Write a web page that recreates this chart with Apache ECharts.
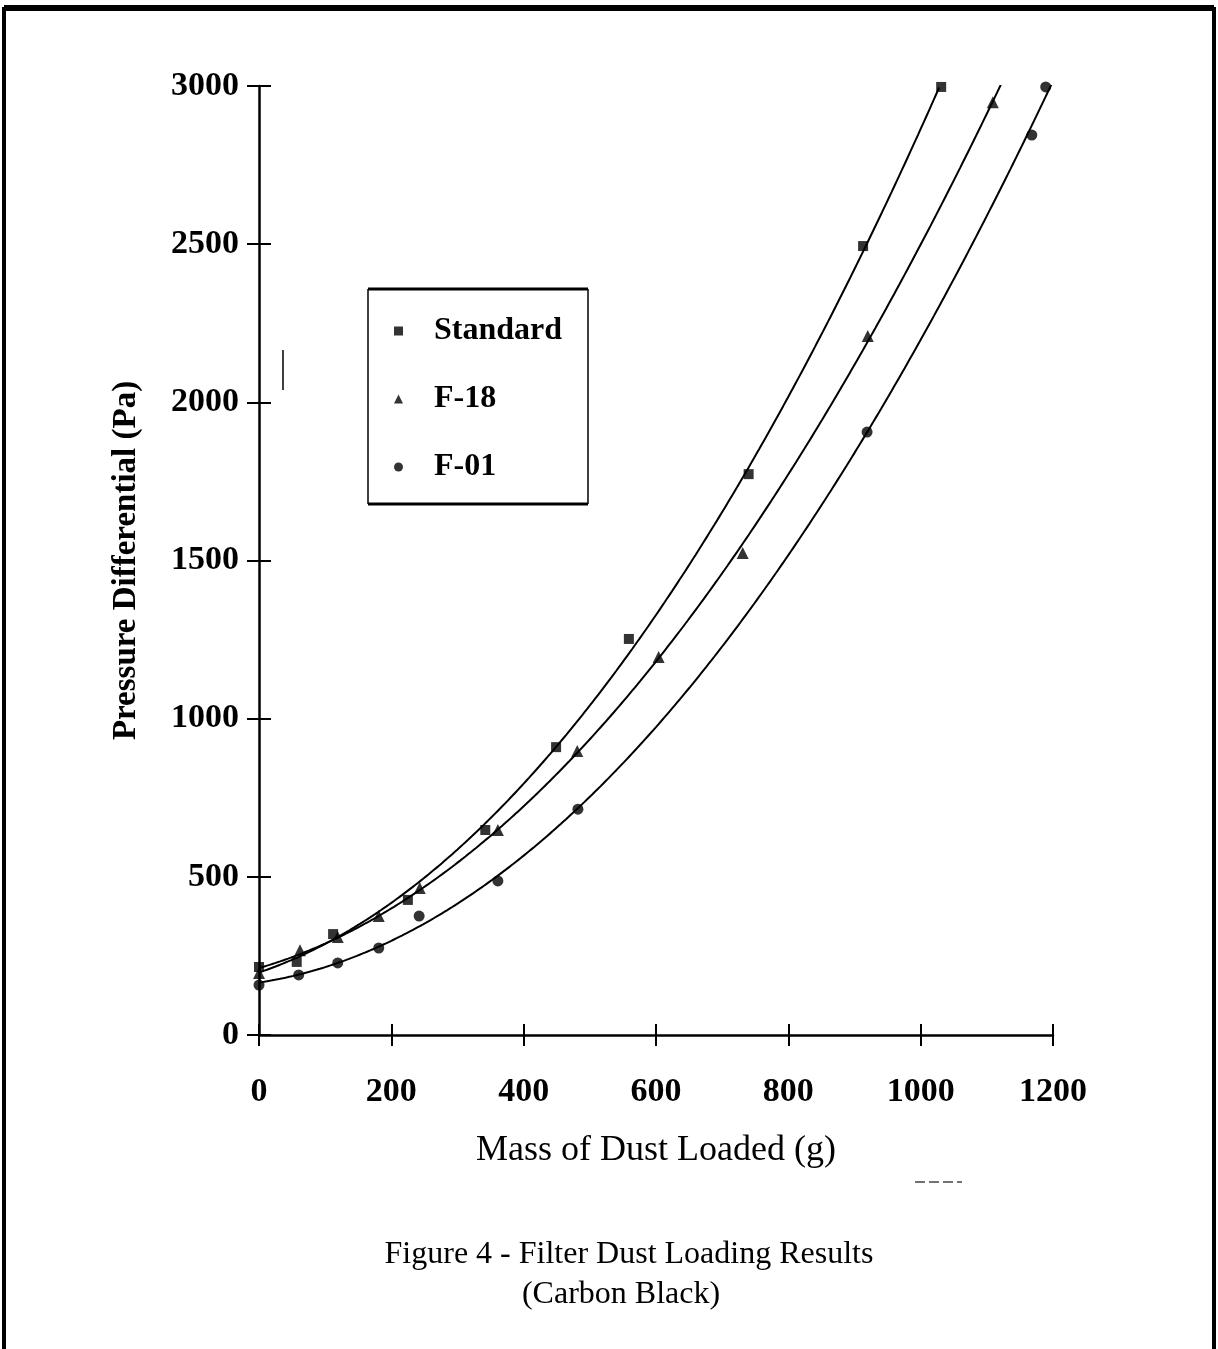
<!DOCTYPE html>
<html>
<head>
<meta charset="utf-8">
<title>Filter Dust Loading Results</title>
<script src="https://cdn.jsdelivr.net/npm/echarts@6.0.0/dist/echarts.min.js"></script>
<style>
  html, body { margin: 0; padding: 0; background: #fff; }
  #chart { width: 1218px; height: 1349px; }
</style>
</head>
<body>
<div id="chart"></div>
<script>
// values
const seriesNames = ['Standard', 'F-18', 'F-01']
const massStandard = [0, 57, 112, 225, 342, 449, 559, 740, 913, 1031]
const dpStandard = [215, 231, 319, 427, 648, 910, 1252, 1773, 2494, 2997]
const massF18 = [0, 62, 119, 181, 243, 361, 481, 604, 731, 920, 1109]
const dpF18 = [196, 268, 310, 376, 465, 648, 898, 1195, 1524, 2210, 2949]
const massF01 = [0, 60, 119, 181, 242, 361, 482, 919, 1168, 1189]
const dpF01 = [158, 190, 228, 275, 376, 487, 714, 1906, 2845, 2997]
// where each trendline stops on the x axis
const trendEnd = [1030, 1125, 1200]

const SERIF = '"Liberation Serif", "DejaVu Serif", serif'
const INK = '#000'

// 2nd order polynomial trendline (least squares), like the spreadsheet one
function quadFit (xs, ys) {
  const s = [0, 0, 0, 0, 0]
  const t = [0, 0, 0]
  xs.forEach((x, i) => {
    let p = 1
    for (let k = 0; k < 5; k++) {
      s[k] += p
      if (k < 3) t[k] += p * ys[i]
      p *= x
    }
  })
  const m = [
    [s[0], s[1], s[2], t[0]],
    [s[1], s[2], s[3], t[1]],
    [s[2], s[3], s[4], t[2]]
  ]
  for (let c = 0; c < 3; c++) {
    for (let r = c + 1; r < 3; r++) {
      const f = m[r][c] / m[c][c]
      for (let k = c; k < 4; k++) m[r][k] -= f * m[c][k]
    }
  }
  const coef = [0, 0, 0]
  for (let r = 2; r >= 0; r--) {
    let v = m[r][3]
    for (let k = r + 1; k < 3; k++) v -= m[r][k] * coef[k]
    coef[r] = v / m[r][r]
  }
  return coef
}

function trendPoints (xs, ys, xEnd) {
  const c = quadFit(xs, ys)
  const pts = []
  for (let x = 0; x <= xEnd; x += 4) {
    pts.push([x, c[0] + c[1] * x + c[2] * x * x])
  }
  return pts
}

const pairs = (xs, ys) => xs.map((x, i) => [x, ys[i]])

const chart = echarts.init(document.getElementById('chart'))

const labelStyle = {
  fontFamily: SERIF,
  fontWeight: 'bold',
  fontSize: 34,
  color: INK,
  formatter: v => String(v)
}

const option = {
  backgroundColor: '#fff',
  animation: false,
  grid: { left: 259, right: 165, top: 86, bottom: 314 },
  legend: {
    orient: 'vertical',
    left: 394,
    top: 315,
    padding: 0,
    itemWidth: 9,
    itemHeight: 9,
    itemGap: 36,
    selectedMode: false,
    data: [
      { name: 'Standard', icon: 'rect' },
      { name: 'F-18', icon: 'triangle' },
      { name: 'F-01', icon: 'circle' }
    ],
    textStyle: {
      fontFamily: SERIF,
      fontWeight: 'bold',
      fontSize: 32,
      lineHeight: 32,
      color: INK,
      padding: [0, 0, 0, 26]
    }
  },
  xAxis: [
    {
      type: 'value',
      min: 0,
      max: 1200,
      interval: 200,
      name: 'Mass of Dust Loaded (g)',
      nameLocation: 'middle',
      nameGap: 98,
      nameTextStyle: { fontFamily: SERIF, fontSize: 36, color: INK },
      axisLine: { lineStyle: { color: INK, width: 2.5 } },
      axisTick: { length: 11, lineStyle: { color: INK, width: 2 } },
      axisLabel: Object.assign({ margin: 40 }, labelStyle),
      splitLine: { show: false }
    },
    {
      type: 'value',
      position: 'bottom',
      min: 0,
      max: 1200,
      interval: 200,
      axisLine: { show: false },
      axisTick: { inside: true, length: 11, lineStyle: { color: INK, width: 2 } },
      axisLabel: { show: false },
      splitLine: { show: false }
    }
  ],
  yAxis: [
    {
      type: 'value',
      min: 0,
      max: 3000,
      interval: 500,
      name: 'Pressure Differential (Pa)',
      nameLocation: 'middle',
      nameGap: 116,
      nameTextStyle: { fontFamily: SERIF, fontWeight: 'bold', fontSize: 33, color: INK },
      axisLine: { lineStyle: { color: INK, width: 2.5 } },
      axisTick: { length: 12, lineStyle: { color: INK, width: 2 } },
      axisLabel: Object.assign({ margin: 20 }, labelStyle),
      splitLine: { show: false }
    },
    {
      type: 'value',
      position: 'left',
      min: 0,
      max: 3000,
      interval: 500,
      axisLine: { show: false },
      axisTick: { inside: true, length: 12, lineStyle: { color: INK, width: 2 } },
      axisLabel: { show: false },
      splitLine: { show: false }
    }
  ],
  series: [
    {
      name: 'Standard',
      type: 'scatter',
      symbol: 'rect',
      symbolSize: 10,
      itemStyle: { color: INK },
      data: pairs(massStandard, dpStandard),
      z: 3
    },
    {
      name: 'F-18',
      type: 'scatter',
      symbol: 'triangle',
      symbolSize: 12,
      itemStyle: { color: INK },
      data: pairs(massF18, dpF18),
      z: 3
    },
    {
      name: 'F-01',
      type: 'scatter',
      symbol: 'circle',
      symbolSize: 11,
      itemStyle: { color: INK },
      data: pairs(massF01, dpF01),
      z: 3
    },
    {
      name: 'Standard trend',
      type: 'line',
      symbol: 'none',
      silent: true,
      clip: true,
      lineStyle: { color: INK, width: 2 },
      data: trendPoints(massStandard, dpStandard, trendEnd[0])
    },
    {
      name: 'F-18 trend',
      type: 'line',
      symbol: 'none',
      silent: true,
      clip: true,
      lineStyle: { color: INK, width: 2 },
      data: trendPoints(massF18, dpF18, trendEnd[1])
    },
    {
      name: 'F-01 trend',
      type: 'line',
      symbol: 'none',
      silent: true,
      clip: true,
      lineStyle: { color: INK, width: 2 },
      data: trendPoints(massF01, dpF01, trendEnd[2])
    }
  ],
  graphic: [
    // page frame
    { type: 'rect', shape: { x: 4, y: 9, width: 1210, height: 1380 }, style: { fill: 'none', stroke: INK, lineWidth: 4 } },
    { type: 'line', shape: { x1: 4, y1: 8, x2: 1214, y2: 8 }, style: { stroke: INK, lineWidth: 6 } },
    // legend box
    { type: 'line', shape: { x1: 368, y1: 289, x2: 588, y2: 289 }, style: { stroke: INK, lineWidth: 3 } },
    { type: 'line', shape: { x1: 368, y1: 504, x2: 588, y2: 504 }, style: { stroke: INK, lineWidth: 3 } },
    { type: 'line', shape: { x1: 368, y1: 289, x2: 368, y2: 504 }, style: { stroke: INK, lineWidth: 1.5 } },
    { type: 'line', shape: { x1: 588, y1: 289, x2: 588, y2: 504 }, style: { stroke: INK, lineWidth: 1.5 } },
    // stray scan marks
    { type: 'line', shape: { x1: 283, y1: 350, x2: 283, y2: 390 }, style: { stroke: INK, lineWidth: 1.5 } },
    { type: 'line', shape: { x1: 915, y1: 1182, x2: 962, y2: 1182 }, style: { stroke: '#444', lineWidth: 1.5, lineDash: [10, 4] } },
    // caption
    {
      type: 'text',
      x: 629,
      y: 1255,
      style: {
        text: 'Figure 4 - Filter Dust Loading Results',
        align: 'center',
        verticalAlign: 'middle',
        fontFamily: SERIF,
        fontSize: 32,
        fill: INK
      }
    },
    {
      type: 'text',
      x: 621,
      y: 1295,
      style: {
        text: '(Carbon Black)',
        align: 'center',
        verticalAlign: 'middle',
        fontFamily: SERIF,
        fontSize: 32,
        fill: INK
      }
    }
  ]
}

chart.setOption(option)
</script>
</body>
</html>
